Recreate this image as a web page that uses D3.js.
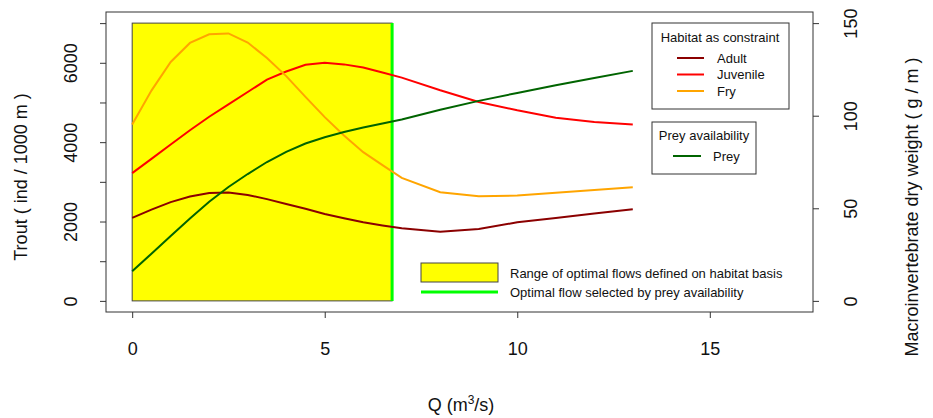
<!DOCTYPE html>
<html lang="en">
<head>
    <meta charset="UTF-8">
    <title>Trout vs flow</title>
    <script src="https://d3js.org/d3.v7.min.js"></script>
    <style>
        body { margin: 0; background: #fff; }
        text { font-family: "Liberation Sans", Arial, sans-serif; fill: #111; }
    </style>
</head>
<body>
    <div id="chart"></div>
    <script>
        // Flow values (m3/s)
        const flows = [0, 0.5, 1, 1.5, 2, 2.5, 3, 3.5, 4, 4.5, 5, 5.5, 6, 6.5, 7, 8, 9, 10, 11, 12, 13];
        // Trout density (ind / 1000 m), habitat as constraint
        const adult    = [2090, 2300, 2490, 2630, 2720, 2730, 2670, 2565, 2440, 2320, 2190, 2080, 1980, 1900, 1830, 1744, 1812, 1980, 2090, 2200, 2308];
        const juvenile = [3220, 3580, 3940, 4300, 4640, 4950, 5264, 5575, 5780, 5950, 6000, 5960, 5880, 5755, 5627, 5307, 5012, 4802, 4617, 4506, 4448];
        const fry      = [4448, 5300, 6020, 6500, 6720, 6740, 6510, 6120, 5665, 5140, 4630, 4170, 3748, 3420, 3100, 2737, 2636, 2654, 2725, 2795, 2864];
        // Macroinvertebrate dry weight (g / m)
        const prey     = [16, 25.5, 35, 44.5, 53.5, 61.5, 68.5, 75, 80.5, 85, 88.4, 91.2, 93.6, 95.8, 98, 103.2, 108, 112.3, 116.4, 120.4, 124.2];

        const optimalRange = [0, 6.75];   // habitat-based optimal flows
        const optimalFlow = 6.75;         // selected by prey availability
        const rangeTop = 7000;

        const xTicks = [0, 5, 10, 15];
        const yLeftTicks = [0, 1000, 2000, 3000, 4000, 5000, 6000, 7000];
        const yLeftLabels = [0, 2000, 4000, 6000];
        const yRightTicks = [0, 50, 100, 150];

        const habitatSeries = [
            { name: "Adult", values: adult, color: "#8b0000" },
            { name: "Juvenile", values: juvenile, color: "#ff0000" },
            { name: "Fry", values: fry, color: "#ffa500" }
        ];
        const preyColor = "#006400";

        const width = 933, height = 418;
        const box = { left: 106, right: 813, top: 12, bottom: 312 };

        const svg = d3.select("#chart").append("svg")
            .attr("width", width)
            .attr("height", height);

        // R style 4% padding on the data ranges
        const x = d3.scaleLinear().domain([-0.68, 17.68]).range([box.left, box.right]);
        const yL = d3.scaleLinear().domain([-280, 7280]).range([box.bottom, box.top]);
        const yR = d3.scaleLinear().domain([-6, 156]).range([box.bottom, box.top]);

        // yellow range of optimal flows
        svg.append("rect")
            .attr("x", x(optimalRange[0]))
            .attr("y", yL(rangeTop))
            .attr("width", x(optimalRange[1]) - x(optimalRange[0]))
            .attr("height", yL(0) - yL(rangeTop))
            .attr("fill", "#ffff00")
            .attr("stroke", "#444")
            .attr("stroke-width", 1);

        svg.append("line")
            .attr("x1", x(optimalFlow)).attr("x2", x(optimalFlow))
            .attr("y1", yL(0)).attr("y2", yL(rangeTop))
            .attr("stroke", "#00ff00")
            .attr("stroke-width", 3);

        // curves
        const lineL = d3.line().x((d, i) => x(flows[i])).y(d => yL(d));
        habitatSeries.forEach(s => {
            svg.append("path")
                .datum(s.values)
                .attr("d", lineL)
                .attr("fill", "none")
                .attr("stroke", s.color)
                .attr("stroke-width", 2);
        });
        const lineR = d3.line().x((d, i) => x(flows[i])).y(d => yR(d));
        svg.append("path")
            .datum(prey)
            .attr("d", lineR)
            .attr("fill", "none")
            .attr("stroke", preyColor)
            .attr("stroke-width", 2);

        // frame
        svg.append("rect")
            .attr("x", box.left).attr("y", box.top)
            .attr("width", box.right - box.left)
            .attr("height", box.bottom - box.top)
            .attr("fill", "none")
            .attr("stroke", "#333")
            .attr("stroke-width", 1);

        // axes
        const xAxis = svg.append("g")
            .attr("transform", `translate(0,${box.bottom})`)
            .call(d3.axisBottom(x).tickValues(xTicks).tickSize(6).tickPadding(24));
        xAxis.select(".domain").remove();
        xAxis.selectAll("text").style("font-size", "18px");

        const leftAxis = svg.append("g")
            .attr("transform", `translate(${box.left},0)`)
            .call(d3.axisLeft(yL).tickValues(yLeftTicks).tickSize(6)
                .tickFormat(d => yLeftLabels.includes(d) ? d : ""));
        leftAxis.select(".domain").remove();
        leftAxis.selectAll("text")
            .attr("x", null).attr("dy", null)
            .attr("text-anchor", "middle")
            .attr("transform", "translate(-29,0) rotate(-90)")
            .style("font-size", "18px");

        const rightAxis = svg.append("g")
            .attr("transform", `translate(${box.right},0)`)
            .call(d3.axisRight(yR).tickValues(yRightTicks).tickSize(6));
        rightAxis.select(".domain").remove();
        rightAxis.selectAll("text")
            .attr("x", null).attr("dy", null)
            .attr("text-anchor", "middle")
            .attr("transform", "translate(44,0) rotate(-90)")
            .style("font-size", "18px");

        svg.selectAll(".tick line").attr("stroke", "#333");

        // axis titles
        svg.append("text")
            .attr("transform", "translate(27,177) rotate(-90)")
            .attr("text-anchor", "middle")
            .style("font-size", "18px")
            .text("Trout ( ind / 1000 m )");

        svg.append("text")
            .attr("transform", "translate(918,207) rotate(-90)")
            .attr("text-anchor", "middle")
            .style("font-size", "18px")
            .text("Macroinvertebrate dry weight ( g / m )");

        const xt = svg.append("text")
            .attr("x", 461).attr("y", 411)
            .attr("text-anchor", "middle")
            .style("font-size", "18px");
        xt.append("tspan").text("Q (m");
        xt.append("tspan").attr("dy", -7).style("font-size", "12px").text("3");
        xt.append("tspan").attr("dy", 7).text("/s)");

        // legend: habitat as constraint
        const lg1 = svg.append("g");
        lg1.append("rect")
            .attr("x", 652).attr("y", 23).attr("width", 137).attr("height", 86)
            .attr("fill", "#fff").attr("stroke", "#333");
        lg1.append("text")
            .attr("x", 720).attr("y", 41.5)
            .attr("text-anchor", "middle")
            .style("font-size", "13px")
            .text("Habitat as constraint");
        habitatSeries.forEach((s, i) => {
            const yy = 58 + i * 16.5;
            lg1.append("line")
                .attr("x1", 677).attr("x2", 704).attr("y1", yy).attr("y2", yy)
                .attr("stroke", s.color).attr("stroke-width", 2);
            lg1.append("text")
                .attr("x", 717).attr("y", yy + 4.5)
                .style("font-size", "13px")
                .text(s.name);
        });

        // legend: prey availability
        const lg2 = svg.append("g");
        lg2.append("rect")
            .attr("x", 652).attr("y", 122).attr("width", 104).attr("height", 52)
            .attr("fill", "#fff").attr("stroke", "#333");
        lg2.append("text")
            .attr("x", 704).attr("y", 139.5)
            .attr("text-anchor", "middle")
            .style("font-size", "13px")
            .text("Prey availability");
        lg2.append("line")
            .attr("x1", 673).attr("x2", 701).attr("y1", 156).attr("y2", 156)
            .attr("stroke", preyColor).attr("stroke-width", 2);
        lg2.append("text")
            .attr("x", 713).attr("y", 160.5)
            .style("font-size", "13px")
            .text("Prey");

        // legend: optimal flows
        const lg3 = svg.append("g");
        lg3.append("rect")
            .attr("x", 421).attr("y", 263).attr("width", 77).attr("height", 19)
            .attr("fill", "#ffff00").attr("stroke", "#444");
        lg3.append("line")
            .attr("x1", 421).attr("x2", 498).attr("y1", 292).attr("y2", 292)
            .attr("stroke", "#00ff00").attr("stroke-width", 3);
        lg3.append("text")
            .attr("x", 510).attr("y", 277.5)
            .style("font-size", "13px")
            .text("Range of optimal flows defined on habitat basis");
        lg3.append("text")
            .attr("x", 510).attr("y", 296.5)
            .style("font-size", "13px")
            .text("Optimal flow selected by prey availability");
    </script>
</body>
</html>
